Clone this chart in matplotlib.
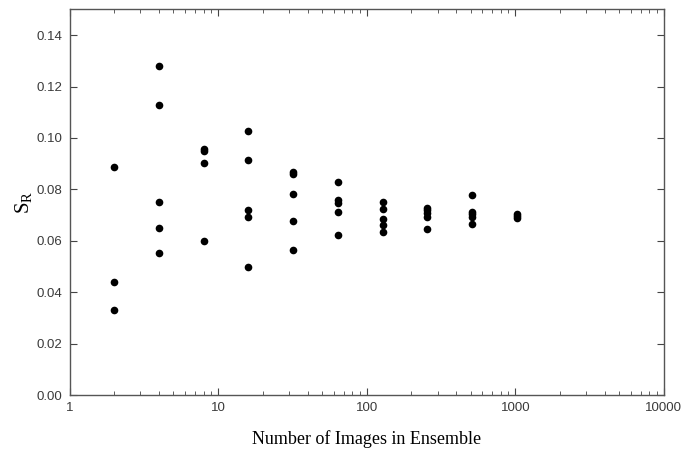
import matplotlib.pyplot as plt
from matplotlib.ticker import LogLocator, FixedLocator, NullFormatter

plt.rcParams['mathtext.fontset'] = 'custom'
plt.rcParams['mathtext.rm'] = 'Liberation Serif'
plt.rcParams['mathtext.it'] = 'Liberation Serif'

# ensemble size and measured S_R values at each size
n_images = [2, 4, 8, 16, 32, 64, 128, 256, 512, 1024]
s_r = [
    [0.0886, 0.0440, 0.0331],
    [0.1280, 0.1128, 0.0751, 0.0648, 0.0554],
    [0.0957, 0.0950, 0.0901, 0.0599],
    [0.1029, 0.0916, 0.0718, 0.0694, 0.0497],
    [0.0869, 0.0860, 0.0781, 0.0677, 0.0564],
    [0.0830, 0.0759, 0.0748, 0.0711, 0.0621],
    [0.0750, 0.0723, 0.0686, 0.0663, 0.0634],
    [0.0729, 0.0718, 0.0709, 0.0693, 0.0646],
    [0.0778, 0.0713, 0.0703, 0.0692, 0.0665],
    [0.0705, 0.0697, 0.0690],
]
y_ticks = [0.0, 0.02, 0.04, 0.06, 0.08, 0.10, 0.12, 0.14]
x_ticks = [1, 10, 100, 1000, 10000]

xs = []
ys = []
for n, vals in zip(n_images, s_r):
    xs += [n] * len(vals)
    ys += vals

fig = plt.figure(figsize=(6.83, 4.5), dpi=100)
ax = fig.add_axes([0.1018, 0.1222, 0.8702, 0.8567])

ax.plot(xs, ys, 'o', color='black', markersize=5.5, markeredgewidth=0)

ax.set_xscale('log')
ax.set_xlim(1, 10000)
ax.set_ylim(0, 0.15)

ax.xaxis.set_minor_locator(LogLocator(base=10, subs=range(2, 10)))
ax.xaxis.set_minor_formatter(NullFormatter())
ax.set_xticks(x_ticks)
ax.set_xticklabels([str(v) for v in x_ticks])
ax.yaxis.set_major_locator(FixedLocator(y_ticks))
ax.set_yticklabels(['%.2f' % v for v in y_ticks])

ax.tick_params(which='both', direction='in', top=True, right=True,
               labelsize=9.5, labelcolor='#3a3a3a', color='#444444')
ax.tick_params(which='major', length=5, width=0.8, pad=5)
ax.tick_params(which='minor', length=3, width=0.6)

for side in ax.spines.values():
    side.set_color('#555555')
    side.set_linewidth(1.0)

for lab in ax.get_xticklabels() + ax.get_yticklabels():
    lab.set_family('Liberation Sans')

ax.set_xlabel('Number of Images in Ensemble', family='Liberation Serif',
              fontsize=13, labelpad=12)
ax.set_ylabel(r'$\mathrm{S_R}$', fontsize=15, labelpad=2)

fig.savefig('out.png', dpi=100)
